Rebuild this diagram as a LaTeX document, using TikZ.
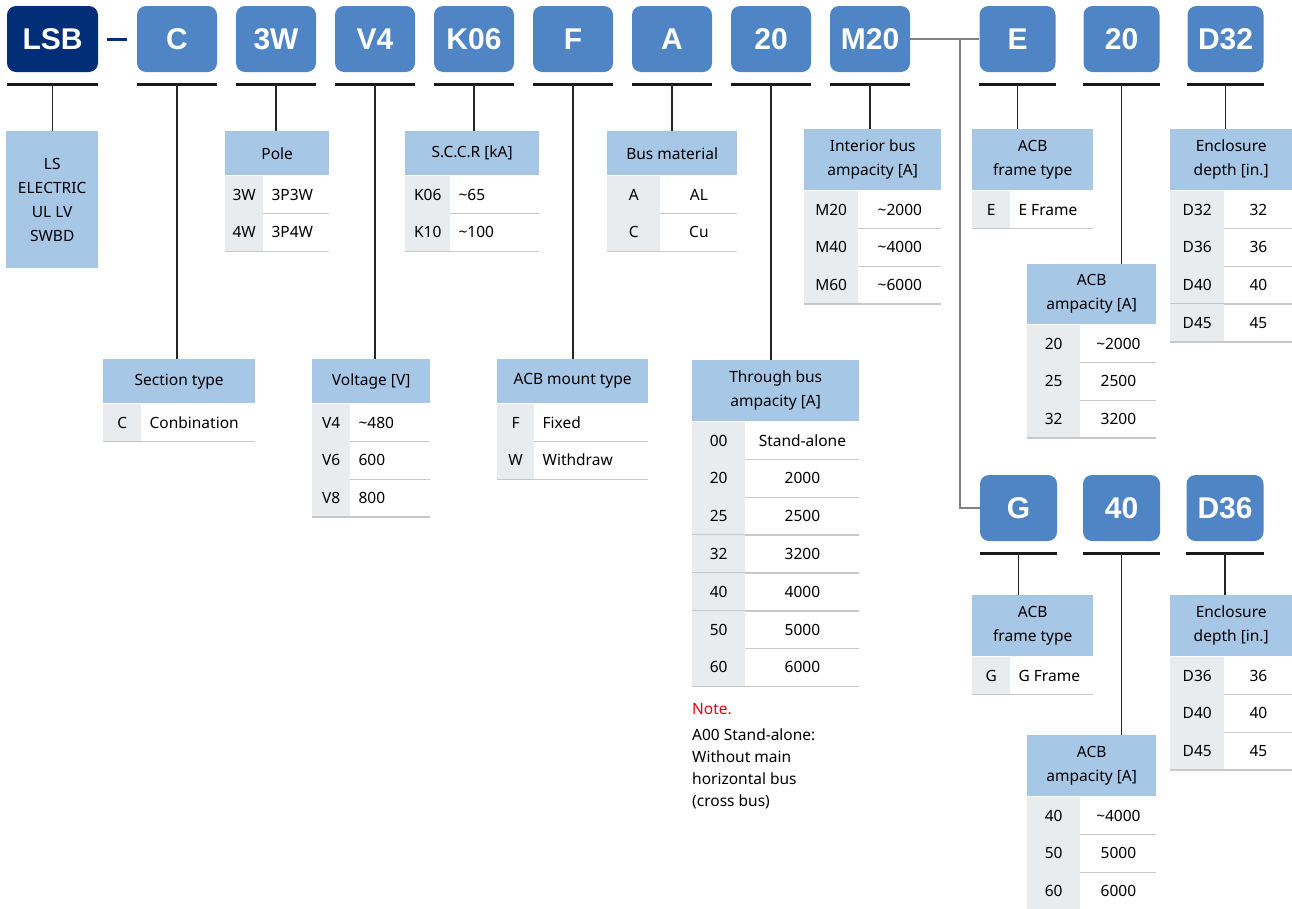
\documentclass[tikz,border=0pt]{standalone}
\usepackage{fontspec}
\setmainfont{Noto Sans}
\newfontfamily\codefont{Liberation Sans}
\usetikzlibrary{calc}
\definecolor{navy}{HTML}{012E77}
\definecolor{boxblue}{HTML}{5085C5}
\definecolor{hdrblue}{HTML}{A7C7E7}
\definecolor{keygray}{HTML}{E9ECEF}
\definecolor{rowgray}{HTML}{C8C8C8}
\definecolor{notered}{HTML}{E60012}
\newcommand{\body}{\fontsize{15.5}{24}\selectfont}
\tikzset{
	codebox/.style={fill=boxblue, rounded corners=9pt, minimum width=80, minimum height=66, inner sep=0pt, text=white, font=\codefont\fontsize{30}{30}\selectfont\bfseries},
	hdr/.style={fill=hdrblue, inner sep=0pt, align=center, font=\body},
	keycell/.style={fill=keygray, inner sep=0pt, minimum height=37.8, text height=11pt, text depth=0pt, font=\body},
	valtxt/.style={inner sep=0pt, text height=11pt, text depth=0pt, font=\body},
	rowline/.style={draw=rowgray, line width=1.6pt},
	bar/.style={line width=2.6pt, black!90},
	conn/.style={line width=1.3pt, black!85},
	link/.style={line width=1.6pt, black!50}
}
% name, top left, width, key width, header height, l/c, header, rows
\newcommand{\spectable}[8]{
	\node[hdr, anchor=north west, minimum width=#3, minimum height=#5] (#1) at (#2) {#7};
	\foreach \k/\v [count=\i] in {#8} {
		\node[keycell, anchor=north west, minimum width=#4] (#1k\i) at ($(#1.south west)+(0,{(\i-1)*37.8})$) {\k};
		\if#6l
			\node[valtxt, anchor=west] (#1v\i) at ([xshift=8pt]#1k\i.east) {\v};
		\else
			\node[valtxt] (#1v\i) at ($(#1k\i.east)!0.5!(#1k\i.east -| #1.east)$) {\v};
		\fi
		\draw[rowline] (#1k\i.south west) -- (#1k\i.south west -| #1.east);
	}
}

\begin{document}
\begin{tikzpicture}[x=1pt,y=-1pt]
	\useasboundingbox (0,0) rectangle (1292,908);

	% code boxes
	\node[codebox, fill=navy, minimum width=91] (lsb) at (52.5,39) {LSB};
	\node[codebox] (sec) at (177,39) {C};
	\node[codebox] (pole) at (276,39) {3W};
	\node[codebox] (volt) at (375,39) {V4};
	\node[codebox] (sccr) at (474,39) {K06};
	\node[codebox] (mount) at (573,39) {F};
	\node[codebox] (busm) at (672,39) {A};
	\node[codebox] (thru) at (771,39) {20};
	\node[codebox] (inter) at (870,39) {M20};
	\node[codebox, minimum width=76] (eframe) at (1017.5,39) {E};
	\node[codebox, minimum width=76] (eamp) at (1121.5,39) {20};
	\node[codebox, minimum width=76] (edepth) at (1225.5,39) {D32};
	\node[codebox, minimum width=77] (gframe) at (1018.5,508) {G};
	\node[codebox, minimum width=77] (gamp) at (1121.5,508) {40};
	\node[codebox, minimum width=77] (gdepth) at (1225,508) {D36};

	\draw[navy, line width=3pt] ([xshift=9pt]lsb.east) -- ([xshift=-10pt]sec.west);
	\coordinate (split) at (960,39);
	\draw[link] (inter.east) -- (eframe.west);
	\draw[link] (split) |- (gframe.west);

	% tables
	\node[hdr, anchor=north west, minimum width=92, minimum height=137] (tlsb) at (6,131) {LS\\ELECTRIC\\UL LV\\SWBD};
	\spectable{tpole}{225,131}{104}{38}{44}{l}{Pole}{3W/3P3W,4W/3P4W}
	\spectable{tsccr}{405,131}{134}{45}{44}{l}{S.C.C.R [kA]}{K06/\textasciitilde65,K10/\textasciitilde100}
	\spectable{tbusm}{607,131}{130}{53}{44}{c}{Bus material}{A/AL,C/Cu}
	\spectable{tinter}{804,129}{137}{54}{61}{c}{Interior bus\\ampacity [A]}{M20/\textasciitilde2000,M40/\textasciitilde4000,M60/\textasciitilde6000}
	\spectable{teframe}{972,129}{121}{38}{61}{l}{ACB\\frame type}{E/E Frame}
	\spectable{teamp}{1027,264}{129}{53}{60}{c}{ACB\\ampacity [A]}{20/\textasciitilde2000,25/2500,32/3200}
	\spectable{tedepth}{1170,129}{122}{54}{61}{c}{Enclosure\\depth [in.]}{D32/32,D36/36,D40/40,D45/45}
	\spectable{tsec}{103,359}{152}{38}{44}{l}{Section type}{C/Conbination}
	\spectable{tvolt}{312,359}{118}{38}{44}{l}{Voltage [V]}{V4/\textasciitilde480,V6/600,V8/800}
	\spectable{tmount}{497,359}{151}{37}{44}{l}{ACB mount type}{F/Fixed,W/Withdraw}
	\spectable{tthru}{692,360}{167}{53}{61}{c}{Through bus\\ampacity [A]}{00/Stand-alone,20/2000,25/2500,32/3200,40/4000,50/5000,60/6000}
	\spectable{tgframe}{972,595}{121}{38}{61}{l}{ACB\\frame type}{G/G Frame}
	\spectable{tgamp}{1027,735}{129}{53}{61}{c}{ACB\\ampacity [A]}{40/\textasciitilde4000,50/5000,60/6000}
	\spectable{tgdepth}{1170,595}{122}{54}{61}{c}{Enclosure\\depth [in.]}{D36/36,D40/40,D45/45}

	\node[anchor=north west, inner sep=0pt, align=left, font=\fontsize{15.5}{22}\selectfont] (note) at ([yshift=-17pt]tthruk7.south west) {\textcolor{notered}{Note.}\\[3.5pt]A00 Stand-alone:\\Without main\\horizontal bus\\(cross bus)};

	% bars and drop lines
	\foreach \b in {lsb,sec,pole,volt,sccr,mount,busm,thru,inter,eframe,eamp,edepth,gframe,gamp,gdepth} {
		\draw[bar] ([yshift=-12pt]\b.south west) -- ([yshift=-12pt]\b.south east);
		\draw[conn] ([yshift=-12pt]\b.south) -- (\b.south |- t\b.north);
	}
\end{tikzpicture}
\end{document}
